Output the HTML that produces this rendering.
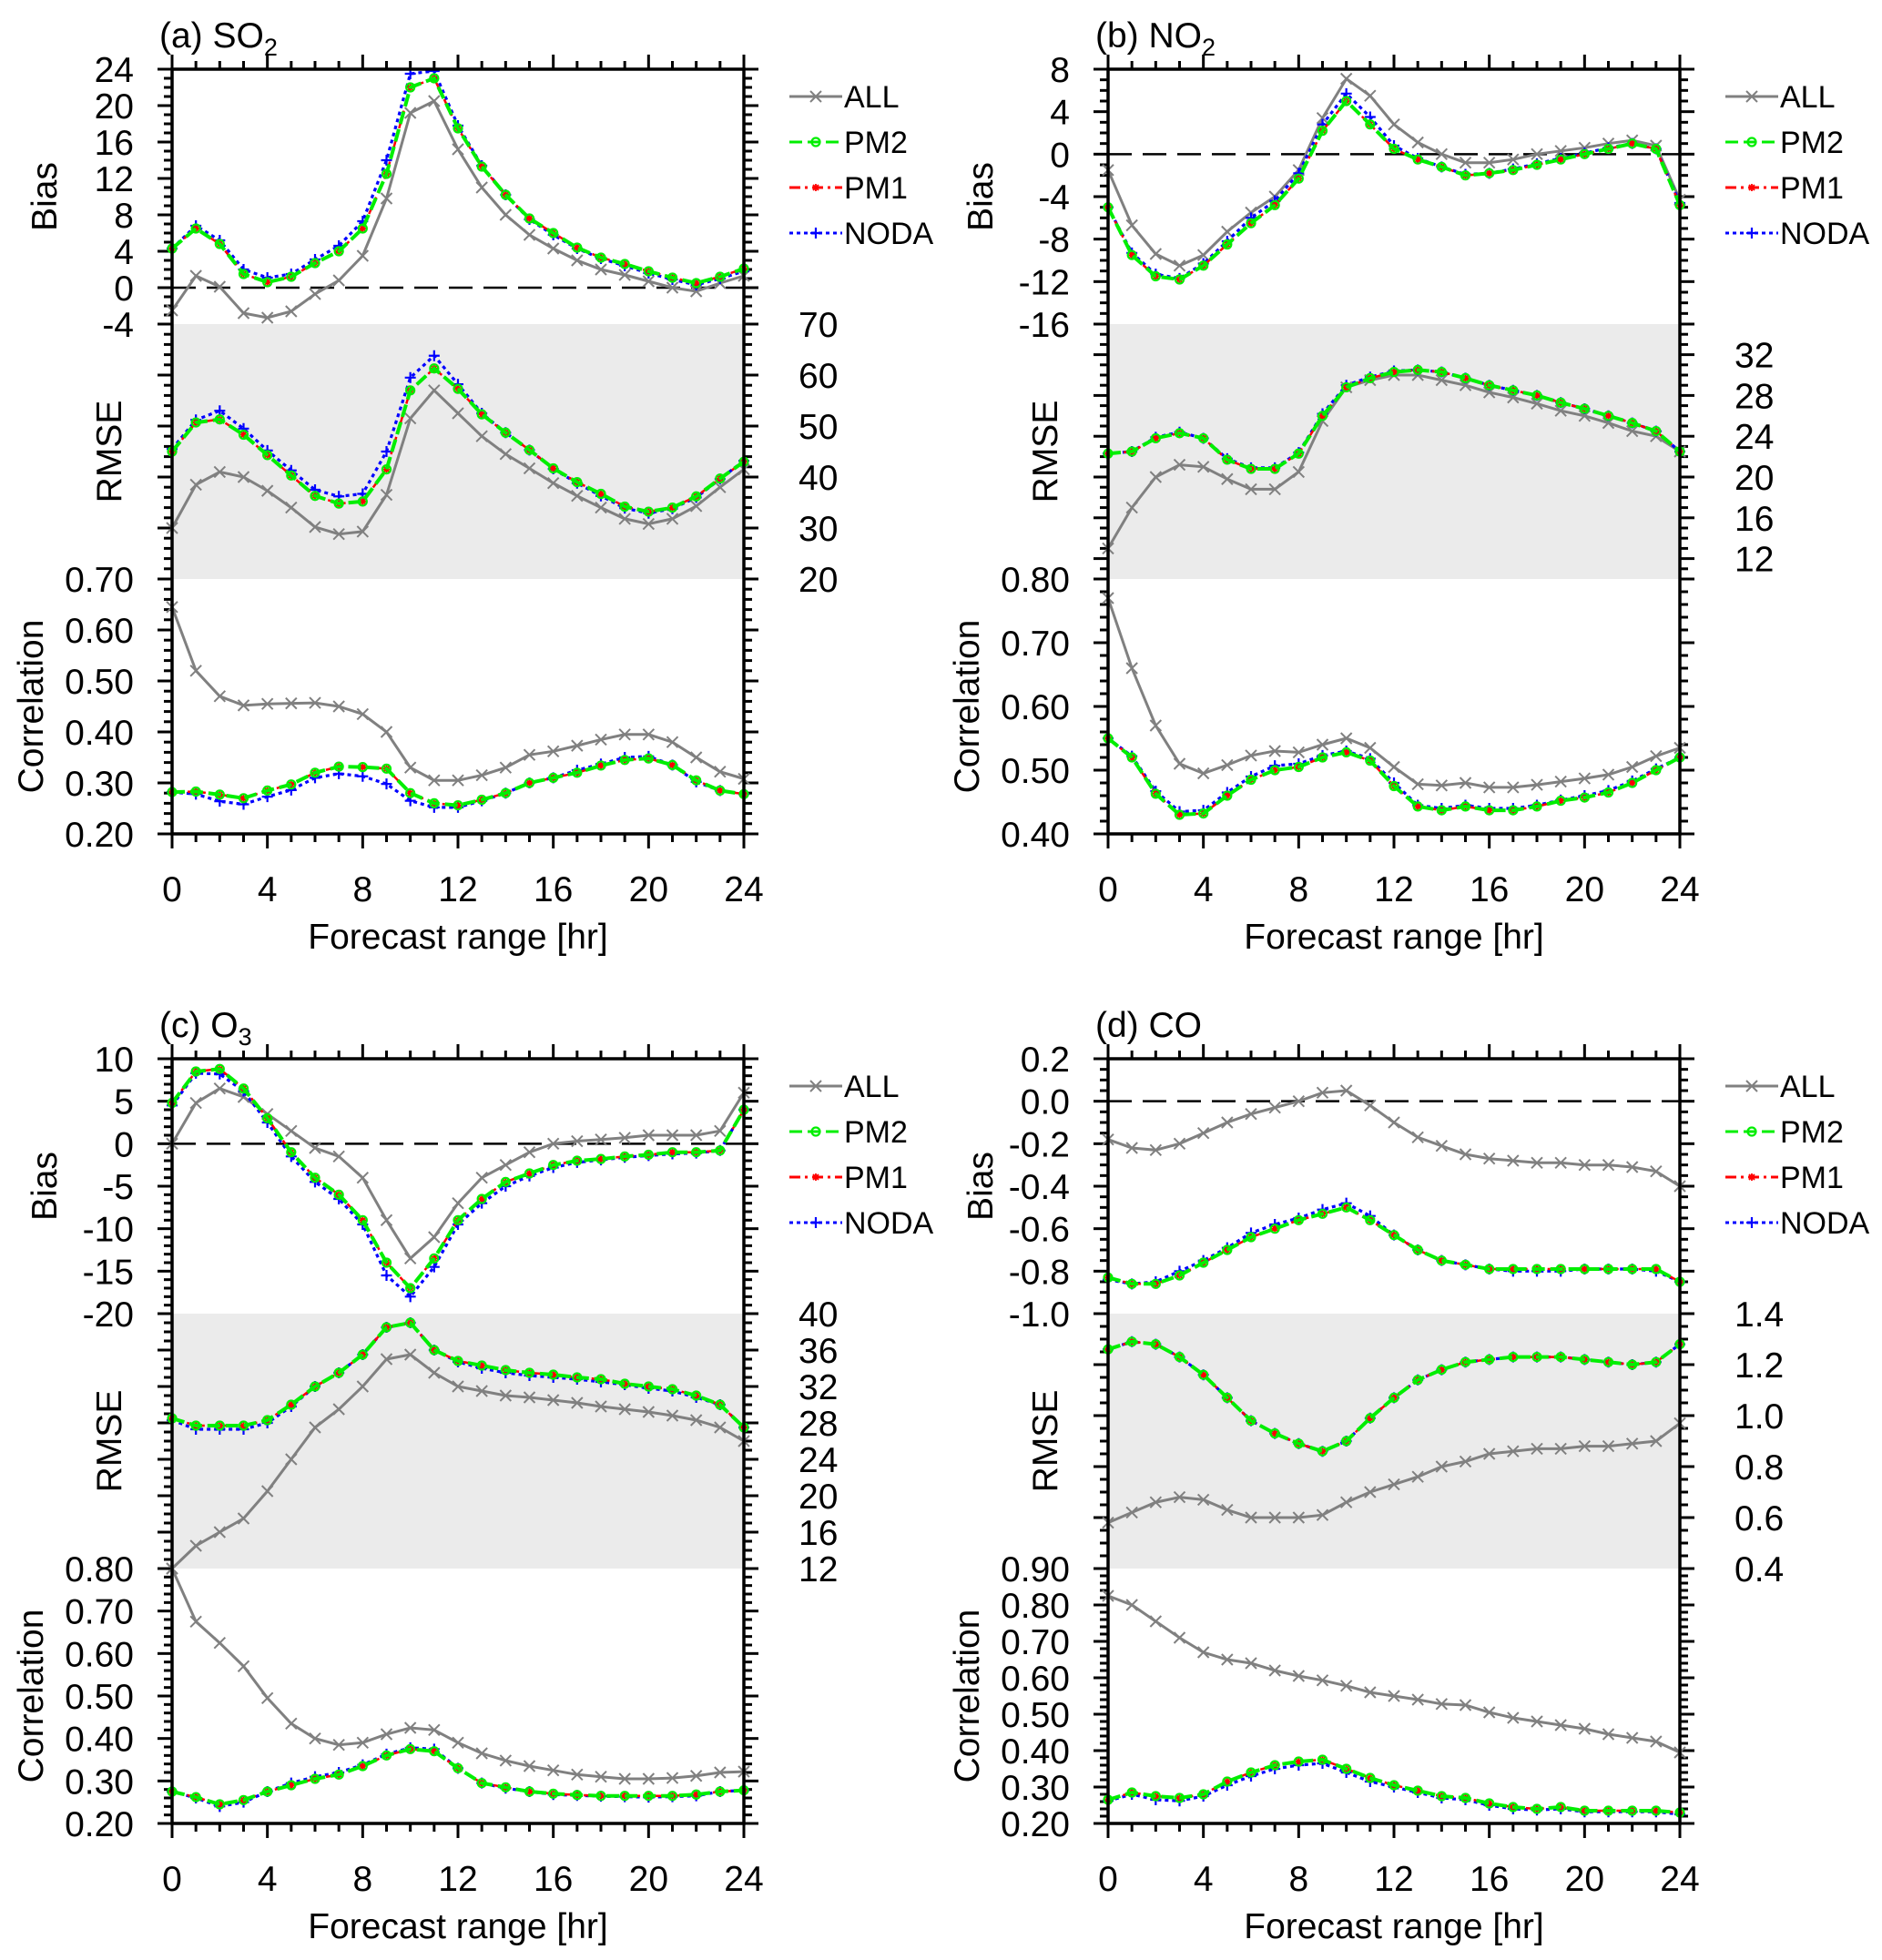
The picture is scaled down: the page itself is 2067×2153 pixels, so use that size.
<!DOCTYPE html>
<html><head><meta charset="utf-8">
<style>
html,body{margin:0;padding:0;background:#fff;}
svg{display:block;font-family:"Liberation Sans",Arial,sans-serif;}
</style></head>
<body>
<svg id="fig" width="2067" height="2153" viewBox="0 0 2067 2153" xmlns="http://www.w3.org/2000/svg"></svg>
<script>
const hours = [0,1,2,3,4,5,6,7,8,9,10,11,12,13,14,15,16,17,18,19,20,21,22,23,24];
const xTicks = [0,4,8,12,16,20,24];
const seriesNames = ["ALL","PM2","PM1","NODA"];

// (a) SO2
const aBiasALL = [-2.5,1.3,0.1,-2.8,-3.3,-2.6,-0.7,0.8,3.5,9.8,19.2,20.5,15.2,11,8,5.8,4.3,3,2,1.4,0.7,0,-0.4,0.5,1.3];
const aBiasPM2 = [4.3,6.5,4.8,1.5,0.6,1.2,2.7,4.0,6.5,12.5,22,23,17.5,13.3,10.2,7.6,6,4.4,3.3,2.6,1.8,1.1,0.5,1.2,2.1];
const aBiasPM1 = [4.3,6.5,4.8,1.5,0.6,1.2,2.7,4.0,6.5,12.5,22,23,17.5,13.3,10.2,7.6,6,4.4,3.3,2.6,1.8,1.1,0.5,1.2,2.1];
const aBiasNODA = [4.3,6.8,5.2,2,1.1,1.5,3.1,4.6,7.3,14,23.5,23.8,17.8,13.4,10.2,7.5,5.8,4.3,3.2,2.4,1.6,0.9,0.3,1.0,1.8];
const aRmseALL = [30,38.5,41,40,37.3,34,30.2,28.8,29.3,36.5,51.5,57,52.5,48,44.5,41.7,38.8,36.3,34,31.8,30.8,31.8,34.3,38,41.5];
const aRmsePM2 = [45,50.7,51.3,48.3,44.3,40.3,36.3,34.8,35.2,41.5,57,61.3,57.3,52.3,48.7,45.3,41.7,39,36.7,34.2,33.2,34,36.2,39.7,43];
const aRmsePM1 = [45,50.7,51.3,48.3,44.3,40.3,36.3,34.8,35.2,41.5,57,61.3,57.3,52.3,48.7,45.3,41.7,39,36.7,34.2,33.2,34,36.2,39.7,43];
const aRmseNODA = [45.5,51.2,53,49.5,45.2,41.3,37.5,36.2,36.7,45,59.5,63.8,58.2,52.5,48.7,45.3,41.6,38.8,36.3,33.9,32.9,33.8,36,39.6,43.2];
const aCorrALL = [0.645,0.52,0.47,0.452,0.455,0.456,0.457,0.45,0.435,0.40,0.33,0.305,0.305,0.315,0.33,0.355,0.362,0.373,0.385,0.395,0.395,0.38,0.35,0.322,0.308];
const aCorrPM2 = [0.282,0.283,0.277,0.27,0.285,0.297,0.32,0.332,0.331,0.328,0.28,0.26,0.256,0.267,0.28,0.30,0.31,0.32,0.334,0.345,0.348,0.335,0.305,0.285,0.278];
const aCorrPM1 = [0.282,0.283,0.277,0.27,0.285,0.297,0.32,0.332,0.331,0.328,0.28,0.26,0.256,0.267,0.28,0.30,0.31,0.32,0.334,0.345,0.348,0.335,0.305,0.285,0.278];
const aCorrNODA = [0.282,0.278,0.264,0.258,0.273,0.286,0.31,0.318,0.313,0.298,0.265,0.252,0.252,0.265,0.28,0.30,0.31,0.325,0.337,0.35,0.352,0.335,0.302,0.285,0.278];

// (b) NO2
const bBiasALL = [-1.5,-6.7,-9.4,-10.5,-9.5,-7.3,-5.5,-4,-1.5,3.4,7.1,5.5,2.8,1.1,0,-0.8,-0.8,-0.5,0,0.3,0.6,1,1.3,0.8,-4.3];
const bBiasPM2 = [-5,-9.5,-11.5,-11.8,-10.5,-8.5,-6.5,-4.8,-2.3,2.2,5,2.8,0.5,-0.5,-1.2,-2,-1.8,-1.5,-1,-0.5,0,0.5,1,0.5,-4.8];
const bBiasPM1 = [-5,-9.5,-11.5,-11.8,-10.5,-8.5,-6.5,-4.8,-2.3,2.2,5,2.8,0.5,-0.5,-1.2,-2,-1.8,-1.5,-1,-0.5,0,0.5,1,0.5,-4.8];
const bBiasNODA = [-5,-9.3,-11.3,-11.7,-10.3,-8.2,-6,-4.4,-1.8,2.8,5.7,3.5,0.8,-0.4,-1.2,-1.9,-1.8,-1.4,-0.9,-0.4,0.1,0.6,1,0.5,-4.6];
const bRmseALL = [13,17,20,21.2,21,19.8,18.8,18.8,20.5,25.5,28.8,29.5,30,30,29.5,29,28.3,27.8,27.2,26.5,26,25.3,24.5,24,22.5];
const bRmsePM2 = [22.3,22.5,23.8,24.3,23.8,21.7,20.8,20.8,22.3,26,28.8,29.7,30.3,30.5,30.3,29.7,29,28.5,28,27.3,26.7,26,25.3,24.5,22.5];
const bRmsePM1 = [22.3,22.5,23.8,24.3,23.8,21.7,20.8,20.8,22.3,26,28.8,29.7,30.3,30.5,30.3,29.7,29,28.5,28,27.3,26.7,26,25.3,24.5,22.5];
const bRmseNODA = [22.3,22.5,23.9,24.4,23.8,21.8,20.9,20.9,22.4,26.2,29,29.8,30.4,30.5,30.3,29.7,29,28.5,28,27.3,26.7,26,25.3,24.5,22.5];
const bCorrALL = [0.77,0.66,0.57,0.51,0.495,0.508,0.523,0.53,0.528,0.54,0.55,0.535,0.505,0.478,0.476,0.48,0.473,0.473,0.477,0.482,0.487,0.493,0.505,0.522,0.535];
const bCorrPM2 = [0.55,0.52,0.463,0.43,0.432,0.46,0.485,0.50,0.505,0.52,0.528,0.515,0.475,0.443,0.437,0.443,0.437,0.437,0.443,0.452,0.457,0.465,0.48,0.5,0.52];
const bCorrPM1 = [0.55,0.52,0.463,0.43,0.432,0.46,0.485,0.50,0.505,0.52,0.528,0.515,0.475,0.443,0.437,0.443,0.437,0.437,0.443,0.452,0.457,0.465,0.48,0.5,0.52];
const bCorrNODA = [0.55,0.522,0.467,0.435,0.437,0.465,0.49,0.507,0.51,0.523,0.53,0.518,0.48,0.445,0.44,0.445,0.44,0.44,0.445,0.453,0.46,0.468,0.483,0.502,0.52];

// (c) O3
const cBiasALL = [0,4.8,6.5,5.5,3.5,1.5,-0.5,-1.5,-4,-9,-13.5,-11,-7,-4,-2.5,-1,0,0.3,0.5,0.7,1,1,1,1.5,6];
const cBiasPM2 = [4.8,8.5,8.8,6.5,3,-1,-4,-6,-9,-14,-17,-13.5,-9,-6.5,-4.5,-3.5,-2.5,-2,-1.8,-1.5,-1.3,-1,-1,-0.8,4];
const cBiasPM1 = [4.8,8.5,8.8,6.5,3,-1,-4,-6,-9,-14,-17,-13.5,-9,-6.5,-4.5,-3.5,-2.5,-2,-1.8,-1.5,-1.3,-1,-1,-0.8,4];
const cBiasNODA = [4.5,8.3,8.2,6.2,2.5,-1.5,-4.5,-6.5,-9.5,-15.5,-18,-14.5,-9.5,-7,-5,-3.8,-2.8,-2.2,-1.9,-1.6,-1.4,-1.2,-1.1,-0.8,4];
const cRmseALL = [12,14.5,16,17.5,20.5,24,27.5,29.5,32,35,35.5,33.5,32,31.5,31,30.8,30.5,30.2,29.8,29.5,29.2,28.8,28.3,27.5,26];
const cRmsePM2 = [28.5,27.7,27.7,27.7,28.3,30,32,33.5,35.5,38.5,39,36,34.8,34.3,33.8,33.5,33.3,33,32.8,32.3,32,31.7,31,30,27.5];
const cRmsePM1 = [28.5,27.7,27.7,27.7,28.3,30,32,33.5,35.5,38.5,39,36,34.8,34.3,33.8,33.5,33.3,33,32.8,32.3,32,31.7,31,30,27.5];
const cRmseNODA = [28.3,27.3,27.3,27.3,28,29.8,32,33.5,35.5,38.5,39,36,34.7,34,33.5,33.2,33,32.8,32.5,32.2,31.8,31.5,30.8,30,27.5];
const cCorrALL = [0.80,0.675,0.625,0.57,0.495,0.435,0.40,0.385,0.39,0.41,0.425,0.42,0.39,0.365,0.348,0.335,0.325,0.315,0.31,0.305,0.305,0.307,0.312,0.32,0.322];
const cCorrPM2 = [0.275,0.262,0.245,0.255,0.275,0.29,0.305,0.315,0.335,0.36,0.375,0.37,0.33,0.295,0.285,0.275,0.27,0.267,0.265,0.265,0.265,0.265,0.268,0.275,0.278];
const cCorrPM1 = [0.275,0.262,0.245,0.255,0.275,0.29,0.305,0.315,0.335,0.36,0.375,0.37,0.33,0.295,0.285,0.275,0.27,0.267,0.265,0.265,0.265,0.265,0.268,0.275,0.278];
const cCorrNODA = [0.275,0.26,0.24,0.25,0.275,0.295,0.31,0.32,0.338,0.363,0.378,0.375,0.33,0.295,0.283,0.275,0.268,0.266,0.264,0.263,0.262,0.263,0.265,0.275,0.278];

// (d) CO
const dBiasALL = [-0.18,-0.22,-0.23,-0.2,-0.15,-0.1,-0.06,-0.03,0,0.04,0.05,-0.02,-0.1,-0.17,-0.21,-0.25,-0.27,-0.28,-0.29,-0.29,-0.3,-0.3,-0.31,-0.33,-0.4];
const dBiasPM2 = [-0.83,-0.86,-0.86,-0.82,-0.76,-0.7,-0.64,-0.6,-0.56,-0.53,-0.5,-0.56,-0.63,-0.7,-0.75,-0.77,-0.79,-0.79,-0.79,-0.79,-0.79,-0.79,-0.79,-0.79,-0.85];
const dBiasPM1 = [-0.83,-0.86,-0.86,-0.82,-0.76,-0.7,-0.64,-0.6,-0.56,-0.53,-0.5,-0.56,-0.63,-0.7,-0.75,-0.77,-0.79,-0.79,-0.79,-0.79,-0.79,-0.79,-0.79,-0.79,-0.85];
const dBiasNODA = [-0.84,-0.86,-0.85,-0.8,-0.75,-0.69,-0.62,-0.58,-0.55,-0.51,-0.48,-0.54,-0.63,-0.7,-0.75,-0.77,-0.79,-0.8,-0.8,-0.8,-0.79,-0.79,-0.79,-0.8,-0.85];
const dRmseALL = [0.58,0.62,0.66,0.68,0.67,0.63,0.6,0.6,0.6,0.61,0.66,0.7,0.73,0.76,0.8,0.82,0.85,0.86,0.87,0.87,0.88,0.88,0.89,0.9,0.97];
const dRmsePM2 = [1.26,1.29,1.28,1.23,1.16,1.07,0.98,0.93,0.89,0.86,0.9,0.99,1.07,1.14,1.18,1.21,1.22,1.23,1.23,1.23,1.22,1.21,1.2,1.21,1.28];
const dRmsePM1 = [1.26,1.29,1.28,1.23,1.16,1.07,0.98,0.93,0.89,0.86,0.9,0.99,1.07,1.14,1.18,1.21,1.22,1.23,1.23,1.23,1.22,1.21,1.2,1.21,1.28];
const dRmseNODA = [1.26,1.29,1.28,1.23,1.16,1.07,0.98,0.93,0.89,0.86,0.9,0.99,1.07,1.14,1.18,1.21,1.22,1.23,1.23,1.23,1.22,1.21,1.2,1.21,1.28];
const dCorrALL = [0.825,0.80,0.755,0.71,0.67,0.65,0.64,0.62,0.605,0.593,0.578,0.56,0.55,0.54,0.528,0.525,0.505,0.49,0.48,0.47,0.46,0.445,0.435,0.425,0.395];
const dCorrPM2 = [0.265,0.285,0.275,0.27,0.28,0.315,0.34,0.36,0.37,0.375,0.35,0.325,0.305,0.29,0.275,0.27,0.255,0.245,0.24,0.245,0.235,0.235,0.235,0.235,0.23];
const dCorrPM1 = [0.265,0.285,0.275,0.27,0.28,0.315,0.34,0.36,0.37,0.375,0.35,0.325,0.305,0.29,0.275,0.27,0.255,0.245,0.24,0.245,0.235,0.235,0.235,0.235,0.23];
const dCorrNODA = [0.262,0.28,0.265,0.262,0.275,0.305,0.33,0.35,0.36,0.365,0.34,0.315,0.3,0.285,0.27,0.265,0.25,0.24,0.237,0.24,0.232,0.232,0.232,0.232,0.225];

const NS = "http://www.w3.org/2000/svg";
const svg = document.getElementById('fig');
const FS = 39;
function mk(tag, attrs, parent){
  const e = document.createElementNS(NS, tag);
  for (const k in attrs) e.setAttribute(k, attrs[k]);
  (parent||svg).appendChild(e);
  return e;
}
const styles = {
  ALL:{c:"#808080", d:"", m:"x", w:3},
  PM2:{c:"#00ee00", d:"14 6", m:"o", w:4},
  PM1:{c:"#ff0000", d:"12 5 3 5", m:"*", w:2.5},
  NODA:{c:"#0000ff", d:"4 4", m:"+", w:3.2}
};
function marker(g, m, x, y, c){
  let e;
  if (m==="x") e = mk('path',{d:`M${x-6},${y-6}L${x+6},${y+6}M${x-6},${y+6}L${x+6},${y-6}`,stroke:c,'stroke-width':2,fill:'none'},g);
  else if (m==="o") e = mk('circle',{cx:x,cy:y,r:4.5,stroke:c,'stroke-width':2.2,fill:'none'},g);
  else if (m==="*") e = mk('path',{d:`M${x-4},${y}L${x+4},${y}M${x},${y-4}L${x},${y+4}M${x-3},${y-3}L${x+3},${y+3}M${x-3},${y+3}L${x+3},${y-3}`,stroke:c,'stroke-width':1.8,fill:'none'},g);
  else e = mk('path',{d:`M${x-6},${y}L${x+6},${y}M${x},${y-6}L${x},${y+6}`,stroke:c,'stroke-width':2.2,fill:'none'},g);
  
  
}
function fmt(v, dec){ return v.toFixed(dec); }
function range(a,b,s){ const r=[]; for(let v=a; v<=b+s*1e-6; v+=s) r.push(Math.round(v/s)*s); return r; }

function panel(p){
  const g = mk('g',{});
  
  
  const x0=p.x0, x1=p.x0+628, top=p.y0, H=280;
  const sy=[top, top+H, top+2*H, top+3*H];
  const xs = h => x0 + (h/24)*(x1-x0);
  const band = mk('rect',{x:x0,y:sy[1],width:x1-x0,height:H,fill:"#ebebeb"},g);
  
  
  const secs = [p.bias, p.rmse, p.corr];
  secs.forEach((s,i)=>{
    const yA=sy[i], yB=sy[i+1];
    const ys = v => yB - (v-s.min)/(s.max-s.min)*(yB-yA);
    const tg = mk('g',{stroke:"#000",'stroke-width':3},g);
    
    
    range(s.min, s.max, s.minor).forEach(v=>{
      const y=ys(v);
      const isMaj = Math.abs(v/s.major - Math.round(v/s.major))<1e-6;
      const L = isMaj?16:9;
      mk('line',{x1:x0-L,y1:y,x2:x0,y2:y},tg);
      mk('line',{x1:x1,y1:y,x2:x1+L,y2:y},tg);
    });
    s.labels.forEach(v=>{
      const y=ys(v);
      let t;
      if (s.side==='left') t = mk('text',{x:x0-42,y:y+14,'font-size':FS,'text-anchor':'end',fill:"#000"},g);
      else t = mk('text',{x:x1+60,y:y+14,'font-size':FS,'text-anchor':'start',fill:"#000"},g);
      t.textContent = fmt(v, s.dec);
      
      
    });
    const tx = s.key==='rmse' ? x0-56 : (s.key==='bias'? x0-127 : x0-142);
    const cy = (yA+yB)/2;
    const at = mk('text',{x:tx,y:cy,'font-size':FS,'text-anchor':'middle',transform:`rotate(-90 ${tx} ${cy})`,fill:"#000"},g);
    at.textContent = s.title;
    
    
    if (s.key==='bias'){
      const zl = mk('line',{x1:x0,y1:ys(0),x2:x1,y2:ys(0),stroke:"#000",'stroke-width':2.5,'stroke-dasharray':"26 12"},g);
      
      
    }
    ["ALL","NODA","PM1","PM2"].forEach(n=>{
      const vals = s.data[n];
      const st = styles[n];
      const sg = mk('g',{},g);
      
      
      const pts = vals.map((v,k)=>xs(hours[k]).toFixed(1)+','+ys(v).toFixed(1)).join(' ');
      const pl = mk('polyline',{points:pts,fill:'none',stroke:st.c,'stroke-width':st.w,'stroke-dasharray':st.d||'none'},sg);
      
      
      vals.forEach((v,k)=>marker(sg, st.m, xs(hours[k]), ys(v), st.c));
    });
  });
  const xg = mk('g',{stroke:"#000",'stroke-width':3},g);
  
  
  hours.forEach(h=>{
    const L = h%4===0?16:9;
    mk('line',{x1:xs(h),y1:sy[0]-L,x2:xs(h),y2:sy[0]},xg);
    mk('line',{x1:xs(h),y1:sy[3],x2:xs(h),y2:sy[3]+L},xg);
  });
  xTicks.forEach(h=>{
    const t = mk('text',{x:xs(h),y:sy[3]+74,'font-size':FS,'text-anchor':'middle',fill:"#000"},g);
    t.textContent = h;
    
    
  });
  const xl = mk('text',{x:(x0+x1)/2,y:sy[3]+126,'font-size':FS,'text-anchor':'middle',fill:"#000"},g);
  xl.textContent = "Forecast range [hr]";
  
  
  const fr = mk('rect',{x:x0,y:sy[0],width:x1-x0,height:3*H,fill:'none',stroke:"#000",'stroke-width':3.5},g);
  
  
  const tt = mk('text',{x:x0-14,y:sy[0]-24,'font-size':FS,fill:"#000"},g);
  
  
  tt.appendChild(document.createTextNode(p.title[0]));
  if (p.title[1]){
    const ts = mk('tspan',{'font-size':27,dy:9},tt);
    ts.textContent = p.title[1];
  }
  const lg = mk('g',{},g);
  
  
  seriesNames.forEach((n,i)=>{
    const y = sy[0]+30+i*50;
    const st = styles[n];
    const eg = mk('g',{},lg);
    
    
    mk('line',{x1:x1+50,y1:y,x2:x1+108,y2:y,stroke:st.c,'stroke-width':3,'stroke-dasharray':st.d||'none'},eg);
    marker(eg, st.m, x1+79, y, st.c);
    const t = mk('text',{x:x1+110,y:y+12,'font-size':34,fill:"#000"},eg);
    t.textContent = n;
  });
}

function sec(key,title,min,max,major,minor,labels,dec,side,A,P2,P1,N){
  return {key,title,min,max,major,minor,labels,dec,side,data:{ALL:A,PM2:P2,PM1:P1,NODA:N}};
}
panel({id:'a', x0:189, y0:76, title:["(a) SO","2"],
  bias:sec('bias','Bias',-4,24,4,1,range(-4,24,4),0,'left',aBiasALL,aBiasPM2,aBiasPM1,aBiasNODA),
  rmse:sec('rmse','RMSE',20,70,10,2,range(20,70,10),0,'right',aRmseALL,aRmsePM2,aRmsePM1,aRmseNODA),
  corr:sec('corr','Correlation',0.2,0.7,0.1,0.02,range(0.2,0.7,0.1),2,'left',aCorrALL,aCorrPM2,aCorrPM1,aCorrNODA)});
panel({id:'b', x0:1217, y0:76, title:["(b) NO","2"],
  bias:sec('bias','Bias',-16,8,4,1,range(-16,8,4),0,'left',bBiasALL,bBiasPM2,bBiasPM1,bBiasNODA),
  rmse:sec('rmse','RMSE',10,35,4,1,range(12,32,4),0,'right',bRmseALL,bRmsePM2,bRmsePM1,bRmseNODA),
  corr:sec('corr','Correlation',0.4,0.8,0.1,0.02,range(0.4,0.8,0.1),2,'left',bCorrALL,bCorrPM2,bCorrPM1,bCorrNODA)});
panel({id:'c', x0:189, y0:1163, title:["(c) O","3"],
  bias:sec('bias','Bias',-20,10,5,1,range(-20,10,5),0,'left',cBiasALL,cBiasPM2,cBiasPM1,cBiasNODA),
  rmse:sec('rmse','RMSE',12,40,4,1,range(12,40,4),0,'right',cRmseALL,cRmsePM2,cRmsePM1,cRmseNODA),
  corr:sec('corr','Correlation',0.2,0.8,0.1,0.02,range(0.2,0.8,0.1),2,'left',cCorrALL,cCorrPM2,cCorrPM1,cCorrNODA)});
panel({id:'d', x0:1217, y0:1163, title:["(d) CO",""],
  bias:sec('bias','Bias',-1.0,0.2,0.2,0.05,range(-1.0,0.2,0.2),1,'left',dBiasALL,dBiasPM2,dBiasPM1,dBiasNODA),
  rmse:sec('rmse','RMSE',0.4,1.4,0.2,0.05,range(0.4,1.4,0.2),1,'right',dRmseALL,dRmsePM2,dRmsePM1,dRmseNODA),
  corr:sec('corr','Correlation',0.2,0.9,0.1,0.02,range(0.2,0.9,0.1),2,'left',dCorrALL,dCorrPM2,dCorrPM1,dCorrNODA)});
</script>
</body></html>
